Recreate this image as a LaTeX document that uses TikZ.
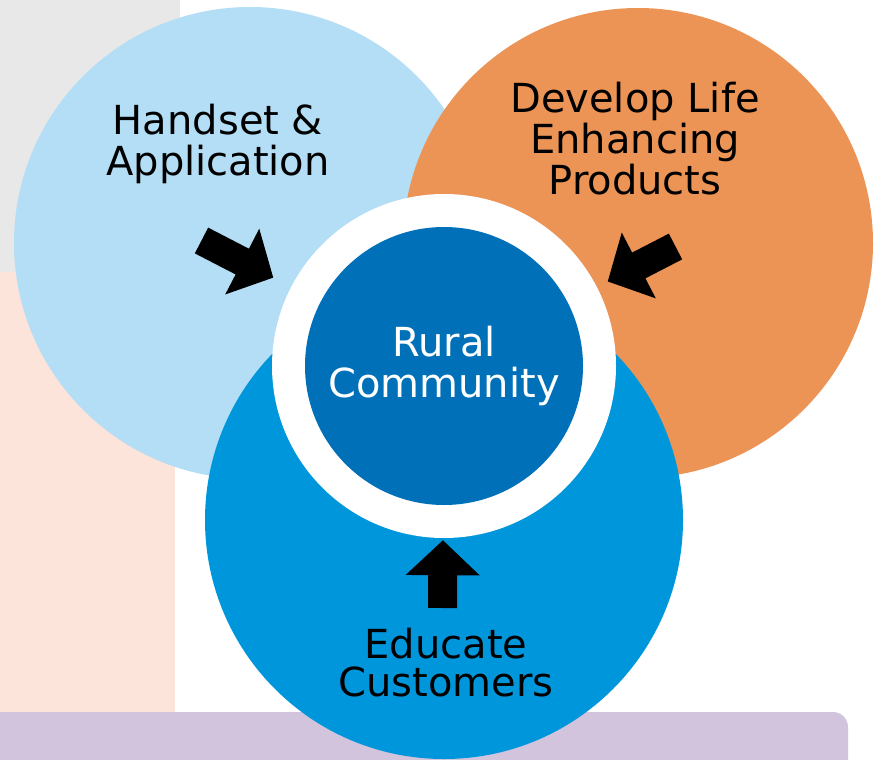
\documentclass[tikz,border=0pt]{standalone}
\usepackage{fontspec}
\setmainfont{DejaVu Sans}
\usetikzlibrary{arrows.meta}

\definecolor{lightblue}{RGB}{179,222,245}
\definecolor{orangefill}{RGB}{236,148,85}
\definecolor{midblue}{RGB}{0,150,219}
\definecolor{darkblue}{RGB}{0,112,184}
\definecolor{greyback}{RGB}{232,232,232}
\definecolor{peachback}{RGB}{253,228,218}
\definecolor{purpleback}{RGB}{210,196,220}

\tikzstyle{circ} = [circle, inner sep=0pt, draw=none]
\tikzstyle{label} = [align=center, inner sep=0pt, font=\fontsize{40}{41}\selectfont]
\tikzstyle{arrow} = [line width=29pt, -{Triangle[width=72pt,length=35pt]}]

\begin{document}
\begin{tikzpicture}[x=1pt, y=-1pt]
  \useasboundingbox (0,0) rectangle (878,760);

  % background panels
  \fill [greyback] (0,0) rectangle (180,272);
  \fill [peachback] (0,272) rectangle (175,712);
  \fill [purpleback] (0,712) [rounded corners=15pt] -- (848,712) -- (848,780) [sharp corners] -- (0,780) -- cycle;

  % circles
  \node (Handset Circle) [circ, fill=lightblue, minimum size=472pt] at (250,243) {};
  \node (Develop Circle) [circ, fill=orangefill, minimum size=470pt] at (638,243) {};
  \node (Educate Circle) [circ, fill=midblue, minimum size=478pt] at (444,520) {};
  \node (Ring) [circ, fill=white, minimum size=344pt] at (444,366) {};
  \node (Rural) [circ, fill=darkblue, minimum size=278pt, text=white, label] at (Ring) {Rural\\Community};

  % texts
  \node (Handset) [label] at (218,144) {Handset \&\\Application};
  \node (Develop) [label] at (635,139) {Develop Life\\Enhancing\\Products};
  \node (Educate) [label, font=\fontsize{40}{38}\selectfont] at (446,663) {Educate\\Customers};

  % arrows
  \coordinate (Handset Tail) at (201.5,240.5);
  \coordinate (Develop Tail) at (675.5,246.5);
  \coordinate (Educate Tail) at (442.5,608);

  \draw [arrow, shorten >=20pt] (Handset Tail) -- (Ring);
  \draw [arrow, shorten >=12pt] (Develop Tail) -- (Ring);
  \draw [arrow, shorten >=2pt] (Educate Tail) -- (Ring);
\end{tikzpicture}
\end{document}
